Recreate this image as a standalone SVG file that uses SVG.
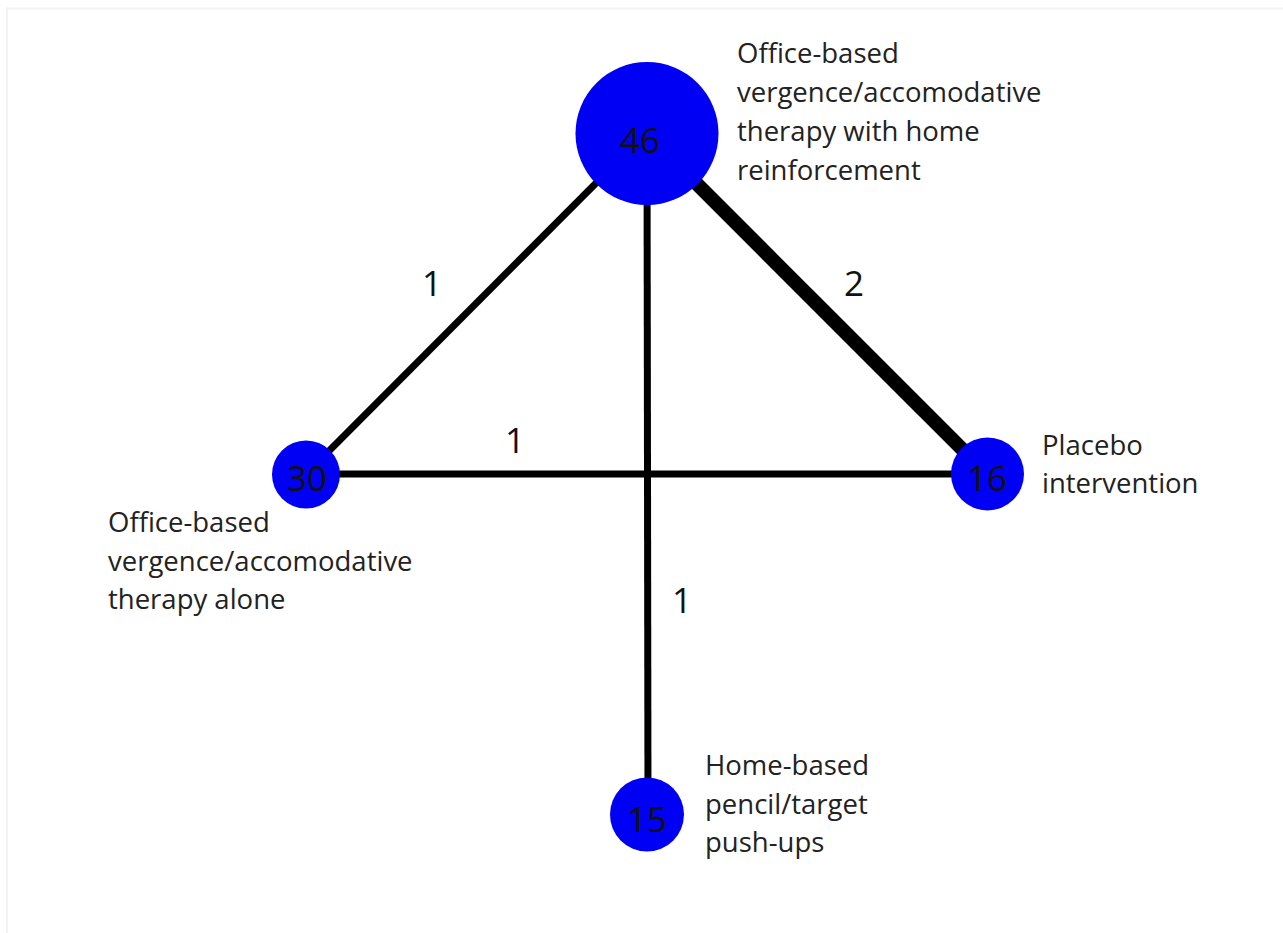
<svg xmlns="http://www.w3.org/2000/svg" width="1283" height="933" viewBox="0 0 1283 933">
<style>
.edge{stroke:#000;fill:none;stroke-linecap:butt}
.node{fill:#0000f5}
.num{font-family:"Open Sans","DejaVu Sans",sans-serif;font-size:35px;fill:#111;text-anchor:middle}
.elab{font-family:"Open Sans","DejaVu Sans",sans-serif;font-size:35px;fill:#111;text-anchor:middle}
.lab{font-family:"Open Sans","DejaVu Sans",sans-serif;font-size:27.5px;fill:#222}
</style>
<rect x="0" y="0" width="1283" height="933" fill="#fff"/>
<rect x="7" y="8.5" width="1290" height="940" fill="none" stroke="#f2f2f2" stroke-width="2"/>
<g id="connectors">
<line class="edge" x1="646" y1="133" x2="306" y2="474" stroke-width="7"/>
<line class="edge" x1="646" y1="133" x2="987" y2="474" stroke-width="14"/>
<line class="edge" x1="647" y1="133" x2="648" y2="814" stroke-width="7"/>
<line class="edge" x1="306" y1="474" x2="987" y2="474" stroke-width="7"/>
<text class="elab" x="432" y="296">1</text>
<text class="elab" x="854" y="296">2</text>
<text class="elab" x="515" y="453">1</text>
<text class="elab" x="682" y="613">1</text>
</g>
<g id="node-office-home">
<circle class="node" cx="647" cy="133.5" r="71.5"/>
<text class="num" x="640" y="153">46</text>
<text class="lab" x="737" y="63">Office-based</text>
<text class="lab" x="737" y="102">vergence/accomodative</text>
<text class="lab" x="737" y="141">therapy with home</text>
<text class="lab" x="737" y="180">reinforcement</text>
</g>
<g id="node-office-alone">
<circle class="node" cx="306" cy="474.5" r="34"/>
<text class="num" x="307" y="491">30</text>
<text class="lab" x="108" y="532">Office-based</text>
<text class="lab" x="108" y="571">vergence/accomodative</text>
<text class="lab" x="108" y="609">therapy alone</text>
</g>
<g id="node-placebo">
<circle class="node" cx="987.5" cy="474" r="36.5"/>
<text class="num" x="987" y="491">16</text>
<text class="lab" x="1042" y="455">Placebo</text>
<text class="lab" x="1042" y="493">intervention</text>
</g>
<g id="node-home">
<circle class="node" cx="647" cy="814.5" r="37"/>
<text class="num" x="647" y="832">15</text>
<text class="lab" x="705" y="775">Home-based</text>
<text class="lab" x="705" y="814">pencil/target</text>
<text class="lab" x="705" y="852">push-ups</text>
</g>
</svg>
